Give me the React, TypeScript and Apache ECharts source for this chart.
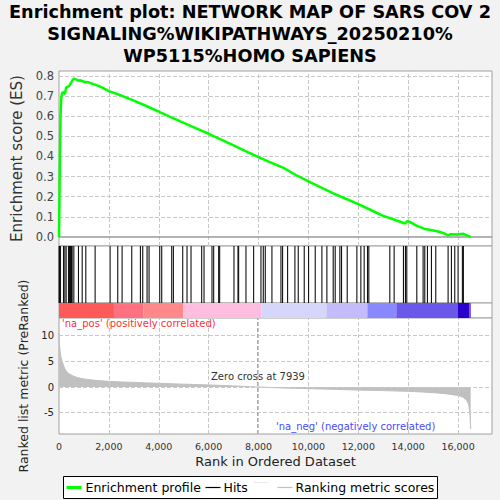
import { useEffect, useRef } from "react";
import * as echarts from "echarts";

const FONT = "DejaVu Sans";

const titleLines = [
  "Enrichment plot: NETWORK MAP OF SARS COV 2",
  "SIGNALING%WIKIPATHWAYS_20250210%",
  "WP5115%HOMO SAPIENS",
];

// running enrichment score, [rank, ES]
const esCurve: [number, number][] = [
  [0, 0], [15, 0.15], [35, 0.4], [60, 0.6], [90, 0.69], [120, 0.715], [180, 0.72],
  [240, 0.71], [270, 0.735], [300, 0.745], [400, 0.75], [450, 0.76], [500, 0.77],
  [540, 0.78], [600, 0.787], [700, 0.782], [800, 0.776], [830, 0.779], [1100, 0.768],
  [1130, 0.771], [1500, 0.755], [1700, 0.745], [2000, 0.725], [2500, 0.703],
  [3000, 0.678], [3500, 0.651], [4000, 0.623], [4500, 0.595], [5000, 0.567],
  [5500, 0.54], [6000, 0.513], [6500, 0.484], [7000, 0.455], [7500, 0.426],
  [8000, 0.397], [8500, 0.37], [9000, 0.343], [9500, 0.308], [10000, 0.276],
  [10500, 0.246], [11000, 0.217], [11500, 0.19], [12000, 0.163], [12500, 0.134],
  [13000, 0.105], [13400, 0.088], [13870, 0.067], [13950, 0.078], [14050, 0.076],
  [14350, 0.055], [14670, 0.04], [14900, 0.035], [15200, 0.027], [15400, 0.02],
  [15600, 0.008], [15700, 0.014], [16000, 0.012], [16200, 0.016], [16300, 0.01],
  [16510, 0],
];

// positions of the gene set members in the ranked list
const hitRanks = [
  5, 20, 40, 60, 180, 234, 287, 380, 420, 460, 500, 527, 594, 781, 930, 1075, 1448,
  2049, 2356, 2530, 2917, 3264, 3357, 3531, 3611, 4038, 4118, 4519, 4586, 4960, 5133,
  5293, 5720, 5814, 6134, 6201, 6401, 6441, 7015, 7176, 7202, 7496, 7803, 8097, 8190,
  8270, 8537, 8898, 8964, 9165, 9458, 9592, 9832, 10006, 10273, 10540, 10740, 10994,
  11074, 11261, 11328, 11555, 11942, 12102, 12235, 12369, 12422, 13263, 13437, 13810,
  13890, 13944, 14345, 14598, 14665, 14772, 14932, 15106, 15600, 15733, 15867, 16000,
  16173, 16213,
];

// ranked list metric, [rank, value]
const metricCurve: [number, number][] = [
  [0, 10.5], [10, 9.5], [25, 8], [50, 6.8], [80, 5.8], [120, 5], [160, 4.5],
  [220, 3.7], [290, 3.1], [400, 2.6], [550, 2.2], [700, 1.9], [900, 1.65],
  [1100, 1.5], [1350, 1.35], [1700, 1.2], [2000, 1.1], [2500, 0.98], [3000, 0.9],
  [3500, 0.8], [4000, 0.72], [5000, 0.55], [6000, 0.4], [7000, 0.22], [7939, 0],
  [9000, -0.2], [10000, -0.32], [11000, -0.45], [12000, -0.6], [13000, -0.7],
  [14000, -0.85], [14500, -0.95], [15000, -1.1], [15500, -1.3], [16000, -1.65],
  [16200, -2.0], [16350, -2.6], [16430, -3.5], [16470, -5], [16505, -8.2],
];

// colour bar under the hits: [from rank, to rank, colour index]
const barSegments: [number, number, number][] = [
  [0, 2203, 0], [2203, 3378, 1], [3378, 4980, 2], [4980, 8118, 3], [8118, 10721, 4],
  [10721, 12363, 5], [12363, 13525, 6], [13525, 15995, 7], [15995, 16462, 8],
  [16462, 16515, 9],
];
const barColors = [
  "#ff5a5a", "#ff7080", "#ff8888", "#ffbee0", "#d6d6fa",
  "#c4bcfa", "#8888ff", "#6a58ea", "#2a00cc", "#8050d0",
];

const esTicks = [0, 0.1, 0.2, 0.3, 0.4, 0.5, 0.6, 0.7, 0.8];
const metricTicks = [-5, 0, 5, 10];
const rankTicks = [2000, 4000, 6000, 8000, 10000, 12000, 14000, 16000];
const zeroCross = 7939;
const xMax = 17360;

// plot panels: top, height (all share left 59, width 433)
const panels: [number, number][] = [[71, 175], [246, 57], [303, 15], [318, 116]];

const gridStyle = { color: "#c8c8c8", type: "dashed", width: 1 };

const App: React.FC = () => {
  const chartRef = useRef<HTMLDivElement>(null);

  useEffect(() => {
    if (!chartRef.current) return;
    const chart = echarts.init(chartRef.current, undefined, { renderer: "svg" });

    const gridItems = (yValues: number[]) => [
      ...rankTicks.map((v) => ({ xAxis: v, lineStyle: gridStyle })),
      ...yValues.map((v) => ({ yAxis: v, lineStyle: gridStyle })),
    ];

    const xAxisFor = (i: number, last: boolean) => ({
      type: "value",
      gridIndex: i,
      min: 0,
      max: xMax,
      interval: 2000,
      axisLine: { show: false },
      axisTick: { show: false },
      splitLine: { show: false },
      axisLabel: last
        ? {
            show: true,
            fontSize: 9.5,
            color: "#333",
            fontFamily: FONT,
            margin: 7,
            showMaxLabel: false,
            formatter: (v: number) => v.toLocaleString("en-US"),
          }
        : { show: false },
      name: last ? "Rank in Ordered Dataset" : "",
      nameLocation: "middle",
      nameGap: 21,
      nameTextStyle: { fontSize: 13, color: "#222", fontFamily: FONT },
    });

    const option = {
      animation: false,
      backgroundColor: "#f2f2f2",
      textStyle: { fontFamily: FONT },
      title: {
        text: titleLines.join("\n"),
        left: "center",
        top: -4,
        textStyle: { fontSize: 17.7, fontWeight: "bold", color: "#000", lineHeight: 22, fontFamily: FONT },
      },
      grid: panels.map(([top, height]) => ({
        left: 59,
        width: 433,
        top,
        height,
        show: true,
        backgroundColor: "#fff",
        borderColor: "#a0a0a0",
        borderWidth: 1,
      })),
      xAxis: [xAxisFor(0, false), xAxisFor(1, false), xAxisFor(2, false), xAxisFor(3, true)],
      yAxis: [
        {
          type: "value",
          gridIndex: 0,
          min: -0.045,
          max: 0.825,
          axisLine: { show: false },
          axisTick: { show: false },
          splitLine: { show: false },
          axisLabel: {
            customValues: esTicks,
            fontSize: 11.5,
            color: "#444",
            fontFamily: FONT,
            margin: 5,
            formatter: (v: number) => v.toFixed(1),
          },
          name: "Enrichment score (ES)",
          nameLocation: "middle",
          nameGap: 32,
          nameTextStyle: { fontSize: 15, color: "#333", fontFamily: FONT },
        },
        { type: "value", gridIndex: 1, min: 0, max: 1, show: false },
        { type: "value", gridIndex: 2, min: 0, max: 1, show: false },
        {
          type: "value",
          gridIndex: 3,
          min: -9.16,
          max: 13.45,
          axisLine: { show: false },
          axisTick: { show: false },
          splitLine: { show: false },
          axisLabel: {
            customValues: metricTicks,
            fontSize: 10,
            color: "#222",
            fontFamily: FONT,
            margin: 5,
          },
          name: "Ranked list metric (PreRanked)",
          nameLocation: "middle",
          nameGap: 23,
          nameTextStyle: { fontSize: 12.5, color: "#222", fontFamily: FONT },
        },
      ],
      series: [
        {
          name: "Enrichment profile",
          type: "line",
          xAxisIndex: 0,
          yAxisIndex: 0,
          data: esCurve,
          symbol: "none",
          lineStyle: { color: "#00ff00", width: 2.5 },
          z: 5,
          markLine: {
            silent: true,
            symbol: "none",
            label: { show: false },
            data: [
              ...gridItems(esTicks.filter((v) => v !== 0)),
              { yAxis: 0, lineStyle: { color: "#999", type: "solid", width: 1.5 } },
            ],
          },
        },
        {
          name: "Hits",
          type: "custom",
          xAxisIndex: 1,
          yAxisIndex: 1,
          data: hitRanks.map((r) => [r, 0]),
          encode: { x: 0, y: 1 },
          renderItem: (_params: any, api: any) => {
            const x = api.coord([api.value(0), 0])[0];
            const y0 = api.coord([0, 0])[1];
            const y1 = api.coord([0, 1])[1];
            return {
              type: "line",
              shape: { x1: x, y1: y1, x2: x, y2: y0 },
              style: { stroke: "#111", lineWidth: 1.1 },
            };
          },
        },
        {
          name: "Bar",
          type: "custom",
          xAxisIndex: 2,
          yAxisIndex: 2,
          data: barSegments,
          encode: { x: [0, 1] },
          renderItem: (_params: any, api: any) => {
            const a = api.coord([api.value(0), 1]);
            const b = api.coord([api.value(1), 0]);
            return {
              type: "rect",
              shape: { x: a[0], y: a[1], width: b[0] - a[0], height: b[1] - a[1] },
              style: { fill: barColors[api.value(2)] },
            };
          },
        },
        {
          name: "Ranking metric scores",
          type: "line",
          xAxisIndex: 3,
          yAxisIndex: 3,
          data: metricCurve,
          symbol: "none",
          z: 3,
          lineStyle: { color: "#c0c0c0", width: 1 },
          areaStyle: { color: "#c0c0c0", opacity: 1 },
          markLine: {
            silent: true,
            symbol: "none",
            label: { show: false },
            data: [
              ...gridItems(metricTicks),
              { xAxis: zeroCross, lineStyle: { color: "#aaa", type: "dashed", width: 1 } },
            ],
          },
        },
      ],
      graphic: [
        {
          type: "text",
          left: 62,
          top: 318,
          style: { text: "'na_pos' (positively correlated)", fill: "#ff3030", font: `10px '${FONT}'` },
        },
        {
          type: "text",
          left: 276,
          top: 421,
          style: { text: "'na_neg' (negatively correlated)", fill: "#4a4aff", font: `10px '${FONT}'` },
        },
        {
          type: "text",
          left: 211,
          top: 371,
          style: { text: `Zero cross at ${zeroCross}`, fill: "#333", font: `10px '${FONT}'` },
        },
        {
          type: "group",
          left: 63,
          top: 476,
          children: [
            { type: "rect", shape: { x: 0, y: 0, width: 374, height: 22 }, style: { fill: "#fff", stroke: "#000", lineWidth: 1 } },
            { type: "line", shape: { x1: 3, y1: 11, x2: 18, y2: 11 }, style: { stroke: "#00ff00", lineWidth: 3 } },
            { type: "text", x: 22, y: 11, style: { text: "Enrichment profile", fill: "#000", font: `12.5px '${FONT}'`, verticalAlign: "middle" } },
            { type: "line", shape: { x1: 142, y1: 11, x2: 157, y2: 11 }, style: { stroke: "#000", lineWidth: 1.2 } },
            { type: "text", x: 160, y: 11, style: { text: "Hits", fill: "#000", font: `12.5px '${FONT}'`, verticalAlign: "middle" } },
            { type: "line", shape: { x1: 190, y1: 6, x2: 205, y2: 6 }, style: { stroke: "#eaeaea", lineWidth: 1 } },
            { type: "line", shape: { x1: 214, y1: 11, x2: 229, y2: 11 }, style: { stroke: "#c0c0c0", lineWidth: 1.2 } },
            { type: "text", x: 232, y: 11, style: { text: "Ranking metric scores", fill: "#000", font: `12.5px '${FONT}'`, verticalAlign: "middle" } },
          ],
        },
      ],
    };

    chart.setOption(option as any);
    return () => chart.dispose();
  }, []);

  return (
    <div
      ref={chartRef}
      style={{ position: "absolute", left: 0, top: 0, width: "500px", height: "500px" }}
    />
  );
};

export default App;
